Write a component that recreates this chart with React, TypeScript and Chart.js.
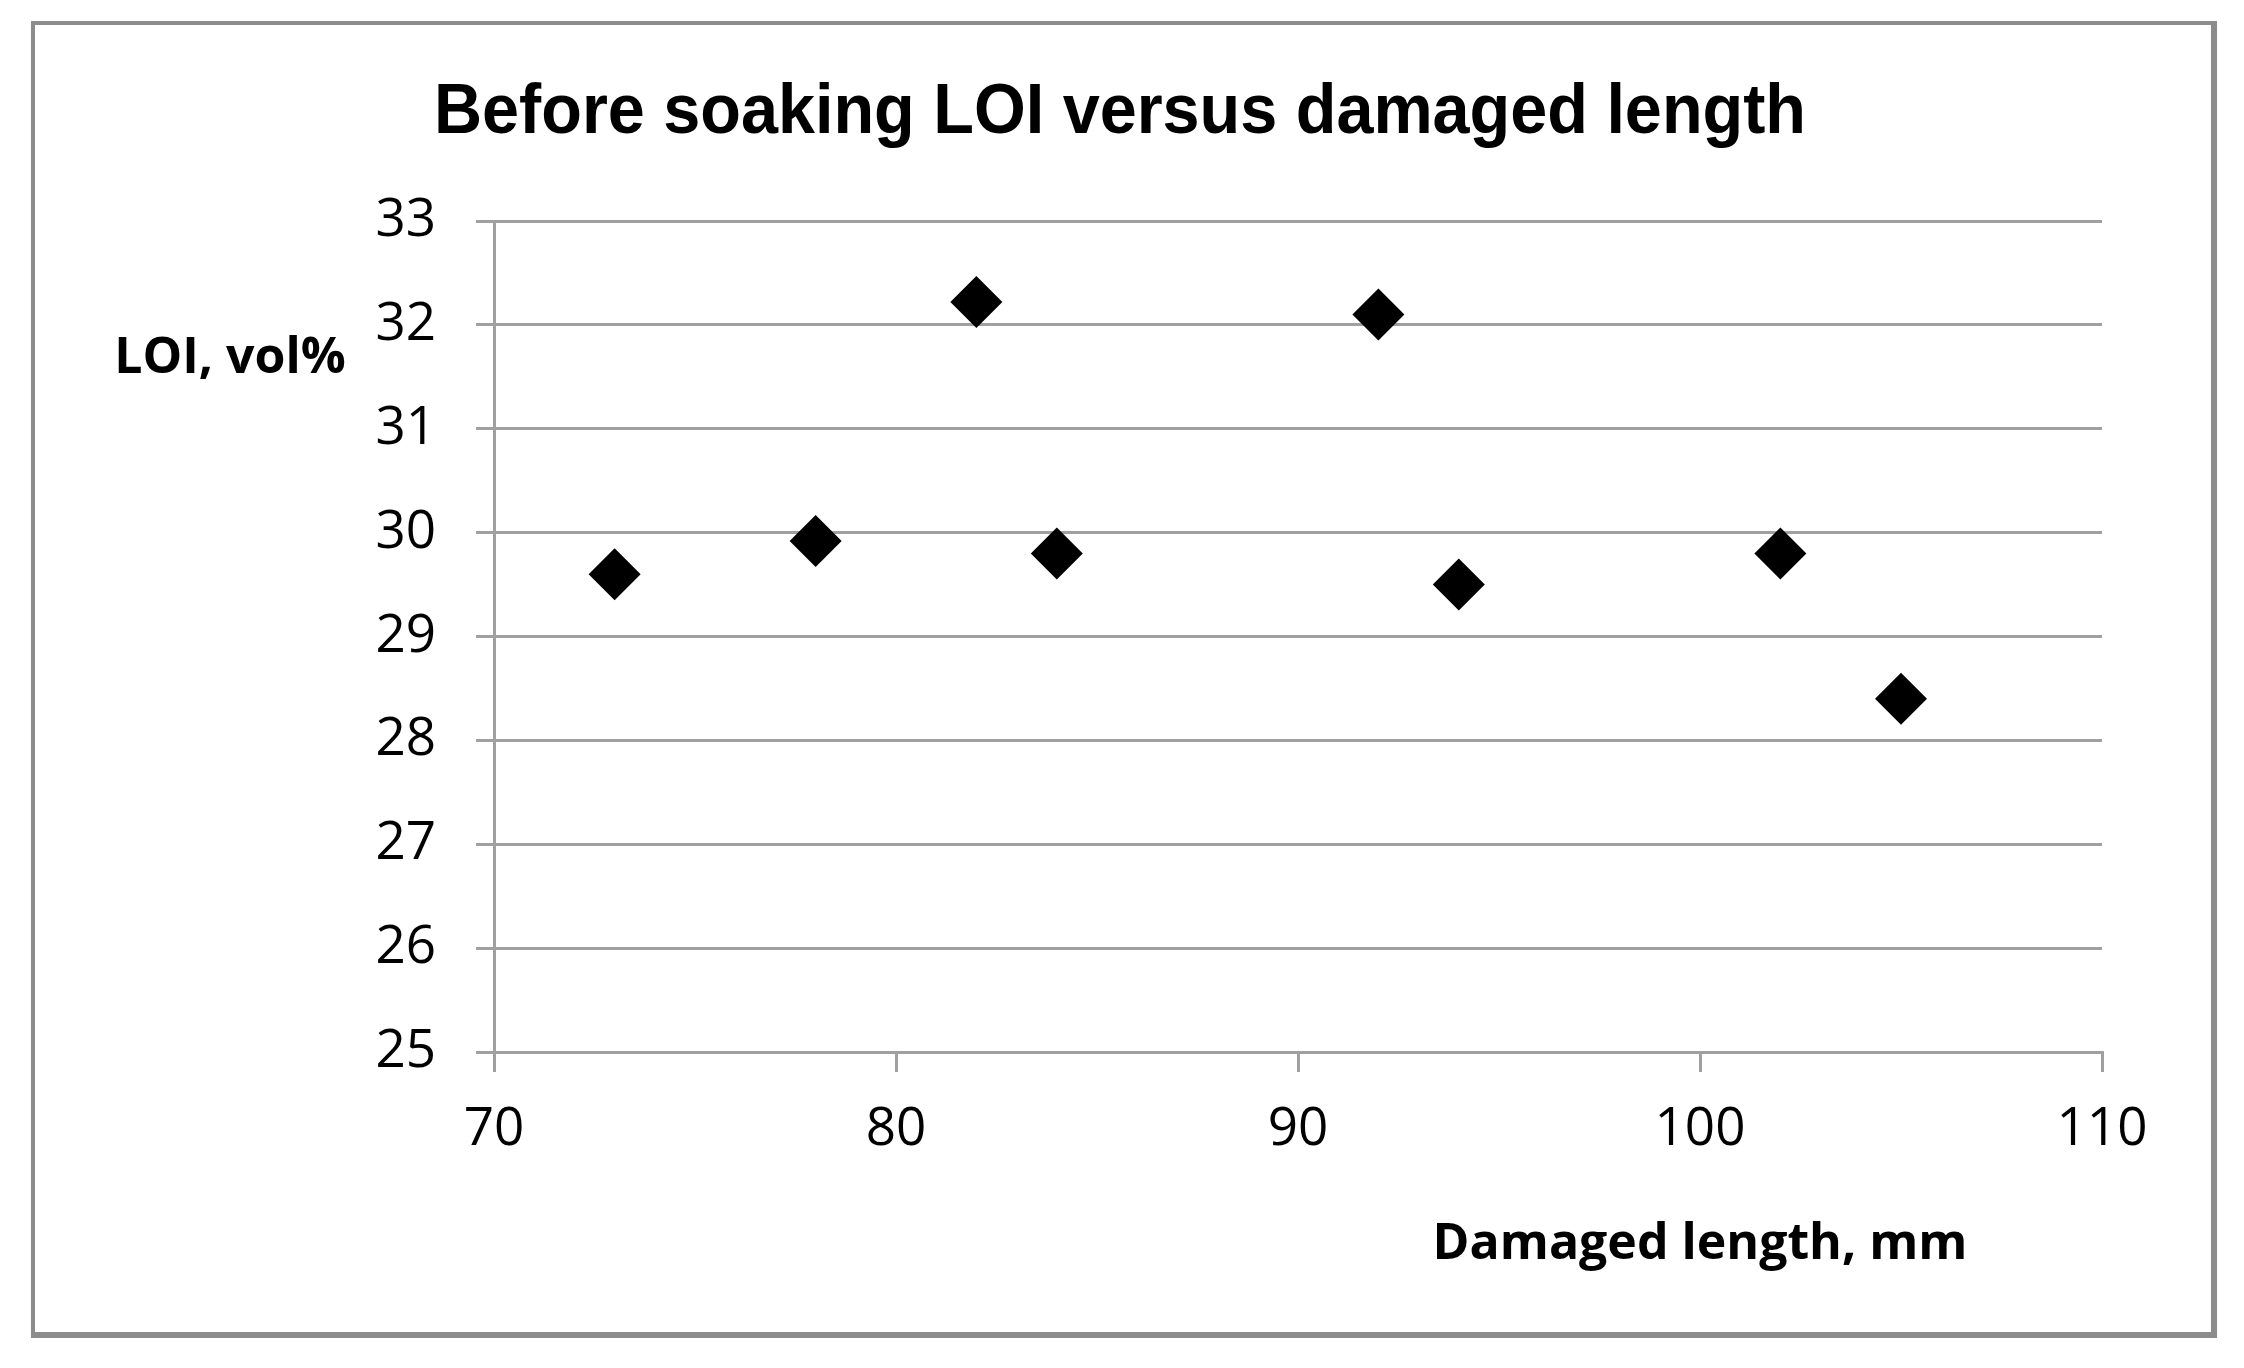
import { useEffect, useRef } from 'react';
import { Chart, ChartConfiguration, registerables } from 'chart.js';

Chart.register(...registerables);

const damagedLength = [73, 78, 82, 84, 92, 94, 102, 105];
const loiValues = [29.6, 29.92, 32.22, 29.8, 32.1, 29.5, 29.8, 28.4];

const chartTitle = 'Before soaking LOI versus damaged length';
const xTitle = 'Damaged length, mm';
const yTitle = 'LOI, vol%';

const tickFont = "'Open Sans', 'Liberation Sans', sans-serif";
const titleFont = "'Liberation Sans', Arial, sans-serif";

// draws the chart title and the two horizontal axis captions
const captionsPlugin = {
  id: 'captions',
  afterDraw(chart: Chart) {
    const { ctx } = chart;
    ctx.save();
    ctx.fillStyle = '#000';
    ctx.textBaseline = 'alphabetic';
    ctx.textAlign = 'center';

    // the original title is a slightly condensed bold face
    ctx.font = `bold 70px ${titleFont}`;
    const w = ctx.measureText(chartTitle).width;
    const squeeze = Math.min(1, 1372 / w);
    ctx.save();
    ctx.translate(1120, 133);
    ctx.scale(squeeze, 1);
    ctx.fillText(chartTitle, 0, 0);
    ctx.restore();

    ctx.font = `bold 50px ${tickFont}`;
    ctx.fillText(yTitle, 230, 373);
    ctx.fillText(xTitle, 1700, 1259);
    ctx.restore();
  },
};

export default function App() {
  const chartRef = useRef<HTMLCanvasElement>(null);
  const chartInstance = useRef<Chart | null>(null);

  useEffect(() => {
    document.body.style.margin = '0';
    document.body.style.overflow = 'hidden';
    if (!chartRef.current) return;

    if (chartInstance.current) {
      chartInstance.current.destroy();
    }

    const ctx = chartRef.current.getContext('2d');
    if (!ctx) return;

    const config: ChartConfiguration = {
      type: 'scatter',
      data: {
        datasets: [
          {
            label: 'LOI',
            data: damagedLength.map((x, i) => ({ x, y: loiValues[i] })),
            pointStyle: 'rectRot',
            pointRadius: 26,
            pointHoverRadius: 26,
            backgroundColor: '#000',
            borderWidth: 0,
          },
        ],
      },
      options: {
        responsive: true,
        maintainAspectRatio: false,
        animation: false,
        layout: {
          padding: { left: 0, right: 142, top: 221, bottom: 216 },
        },
        plugins: {
          legend: { display: false },
          title: { display: false },
          tooltip: { enabled: false },
        },
        scales: {
          x: {
            type: 'linear',
            min: 70,
            max: 110,
            afterFit: (scale) => {
              scale.height = 100;
            },
            ticks: {
              stepSize: 10,
              padding: 26,
              color: '#000',
              font: { family: tickFont, size: 53 },
            },
            grid: {
              drawOnChartArea: false,
              drawTicks: true,
              tickLength: 20,
              color: '#a0a0a0',
              lineWidth: 3,
            },
            border: { color: '#a0a0a0', width: 3 },
          },
          y: {
            min: 25,
            max: 33,
            afterFit: (scale) => {
              scale.width = 494;
            },
            ticks: {
              stepSize: 1,
              padding: 40,
              color: '#000',
              font: { family: tickFont, size: 53 },
            },
            grid: {
              tickLength: 18,
              color: '#a0a0a0',
              lineWidth: 3,
            },
            border: { color: '#a0a0a0', width: 3 },
          },
        },
      },
      plugins: [captionsPlugin],
    };

    chartInstance.current = new Chart(ctx, config);

    return () => {
      if (chartInstance.current) {
        chartInstance.current.destroy();
        chartInstance.current = null;
      }
    };
  }, []);

  return (
    <div style={{ position: 'relative', width: 2244, height: 1368, background: '#fff' }}>
      <div
        style={{
          position: 'absolute',
          left: 31,
          top: 21,
          width: 2186,
          height: 1317,
          boxSizing: 'border-box',
          borderStyle: 'solid',
          borderColor: '#8c8c8c',
          borderWidth: '4px 6px 6px 4px',
        }}
      />
      <div style={{ position: 'absolute', left: 0, top: 0, width: 2244, height: 1368 }}>
        <canvas ref={chartRef}></canvas>
      </div>
    </div>
  );
}
